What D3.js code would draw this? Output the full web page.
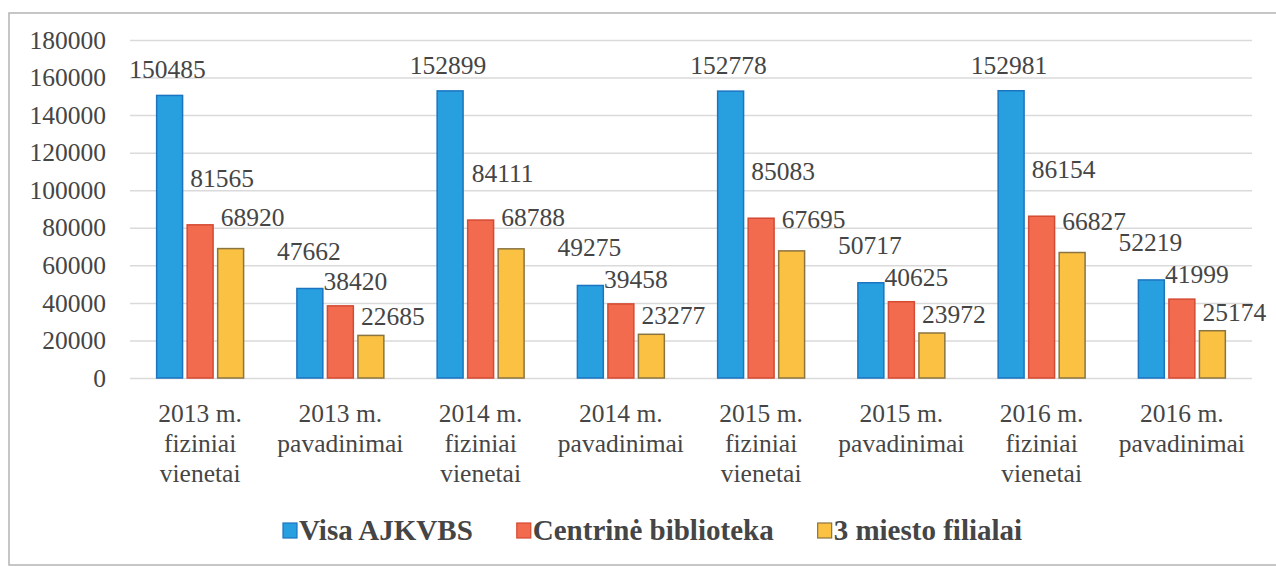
<!DOCTYPE html>
<html>
<head>
  <meta charset="utf-8">
  <script src="https://d3js.org/d3.v7.min.js"></script>
</head>
<body style="margin:0">
  <script>
    // data
    var categories = [
      ["2013 m.", "fiziniai", "vienetai"],
      ["2013 m.", "pavadinimai"],
      ["2014 m.", "fiziniai", "vienetai"],
      ["2014 m.", "pavadinimai"],
      ["2015 m.", "fiziniai", "vienetai"],
      ["2015 m.", "pavadinimai"],
      ["2016 m.", "fiziniai", "vienetai"],
      ["2016 m.", "pavadinimai"]
    ];
    var seriesNames = ["Visa AJKVBS", "Centrinė biblioteka", "3 miesto filialai"];
    var visaValues = [150485, 47662, 152899, 49275, 152778, 50717, 152981, 52219];
    var centrValues = [81565, 38420, 84111, 39458, 85083, 40625, 86154, 41999];
    var filialValues = [68920, 22685, 68788, 23277, 67695, 23972, 66827, 25174];
    var yTicks = [0, 20000, 40000, 60000, 80000, 100000, 120000, 140000, 160000, 180000];

    var seriesValues = [visaValues, centrValues, filialValues];
    var fills = ["#28a0e0", "#f26b4e", "#fbc143"];
    var strokes = ["#1b74c0", "#d44a33", "#8a7440"];

    // labels sit a little off the bars, like in the original
    var labelShift = {
      fiz: { dx: [-2, 22, 22], dy: [-17, -38, -23] },
      pav: { dx: [-1, 15, 22], dy: [-29, -16, -10] }
    };

    var width = 1276;
    var height = 566;
    var fontSize = 25.5;
    var serif = "Liberation Serif";
    var textColor = "#454545";

    var svg = d3.select("body").append("svg")
      .attr("width", width)
      .attr("height", height);

    // outer frame
    svg.append("rect")
      .attr("x", 9)
      .attr("y", 13)
      .attr("width", 1290)
      .attr("height", 552)
      .attr("fill", "#fff")
      .attr("stroke", "#b4b4b4")
      .attr("stroke-width", 1.5);

    var x0 = d3.scaleBand()
      .domain(d3.range(categories.length))
      .range([130, 1252])
      .paddingInner(0.38)
      .paddingOuter(0.19);

    var x1 = d3.scaleBand()
      .domain(d3.range(seriesValues.length))
      .range([0, x0.bandwidth()])
      .paddingInner(0.15);

    var y = d3.scaleLinear()
      .domain([0, 180000])
      .range([378, 40]);

    // gridlines + y labels
    var yAxis = d3.axisLeft(y)
      .tickValues(yTicks)
      .tickSize(-(1252 - 130))
      .tickPadding(24)
      .tickFormat(d3.format("d"));

    var gy = svg.append("g")
      .attr("transform", "translate(130,0)")
      .call(yAxis)
      .attr("font-family", serif)
      .attr("font-size", fontSize);
    gy.select(".domain").remove();
    gy.selectAll(".tick line")
      .attr("stroke", "#dadada")
      .attr("stroke-width", 1.5);
    gy.selectAll(".tick text")
      .attr("font-family", serif)
      .attr("font-size", fontSize)
      .attr("fill", textColor);

    // bars
    var groups = svg.selectAll(".grp")
      .data(categories)
      .enter().append("g")
      .attr("class", "grp")
      .attr("transform", function(d, i) {
        return "translate(" + x0(i) + ",0)";
      });

    function cells(d, i) {
      return seriesValues.map(function(s, k) {
        return { cat: i, s: k, v: s[i] };
      });
    }

    groups.selectAll("rect")
      .data(cells)
      .enter().append("rect")
      .attr("x", function(d) { return x1(d.s); })
      .attr("y", function(d) { return y(d.v); })
      .attr("width", x1.bandwidth())
      .attr("height", function(d) { return y(0) - y(d.v); })
      .attr("fill", function(d) { return fills[d.s]; })
      .attr("stroke", function(d) { return strokes[d.s]; })
      .attr("stroke-width", 1.5);

    // value labels
    groups.selectAll(".val")
      .data(cells)
      .enter().append("text")
      .attr("class", "val")
      .attr("x", function(d) {
        var sh = d.cat % 2 === 0 ? labelShift.fiz : labelShift.pav;
        return x1(d.s) + x1.bandwidth() / 2 + sh.dx[d.s];
      })
      .attr("y", function(d) {
        var sh = d.cat % 2 === 0 ? labelShift.fiz : labelShift.pav;
        return y(d.v) + sh.dy[d.s];
      })
      .attr("text-anchor", "middle")
      .attr("fill", textColor)
      .attr("font-family", serif)
      .attr("font-size", fontSize)
      .text(function(d) { return d.v; });

    // category labels
    groups.append("text")
      .attr("text-anchor", "middle")
      .attr("fill", textColor)
      .attr("font-family", serif)
      .attr("font-size", fontSize)
      .attr("x", x0.bandwidth() / 2)
      .attr("y", 422)
      .selectAll("tspan")
      .data(function(d) { return d; })
      .enter().append("tspan")
      .attr("x", x0.bandwidth() / 2)
      .attr("dy", function(d, i) { return i === 0 ? 0 : 30; })
      .text(function(d) { return d; });

    // legend
    var legend = svg.append("g")
      .attr("transform", "translate(283,0)");
    var lx = 0;
    seriesNames.forEach(function(name, k) {
      var item = legend.append("g").attr("transform", "translate(" + lx + ",0)");
      item.append("rect")
        .attr("x", 0)
        .attr("y", 523)
        .attr("width", 14)
        .attr("height", 15)
        .attr("fill", fills[k])
        .attr("stroke", strokes[k])
        .attr("stroke-width", 1.2);
      var t = item.append("text")
        .attr("x", 16)
        .attr("y", 540)
        .attr("fill", textColor)
        .attr("font-family", serif)
        .attr("font-size", 29)
        .attr("font-weight", "bold")
        .text(name);
      lx += 16 + t.node().getComputedTextLength() + 44;
    });
  </script>
</body>
</html>
